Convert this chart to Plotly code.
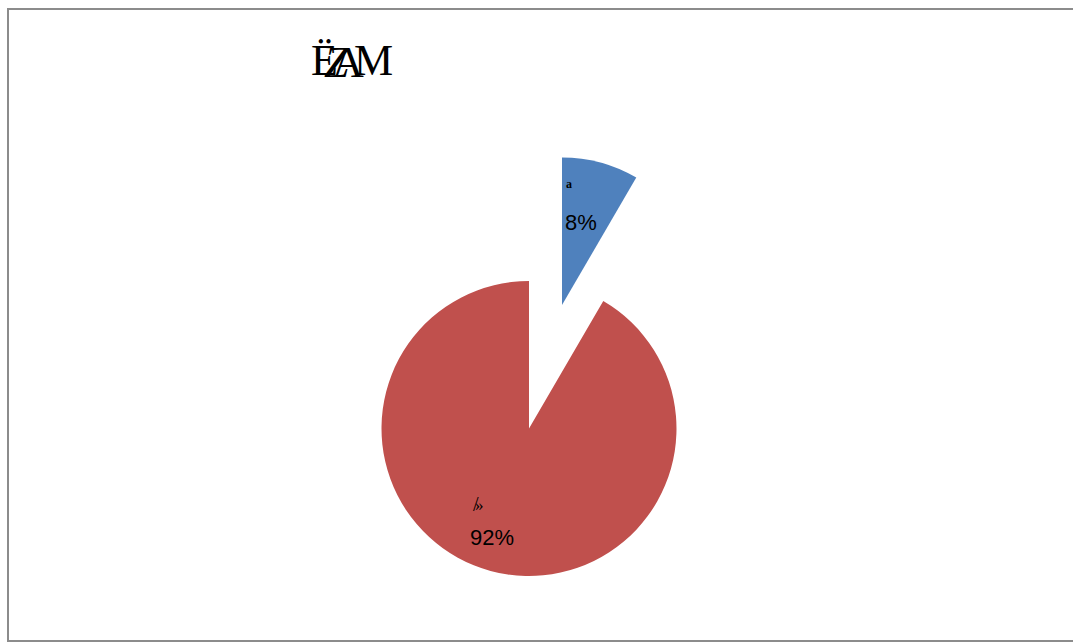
import plotly.graph_objects as go

# ---- data ----
categories = ["a", "»"]
values = [8.4, 91.6]
colors = ["#4F81BD", "#C0504D"]
title_glyphs = ["Ë", "Z", "A", "M"]

W, H = 1073, 643
R = 147.5
CX, CY = 529, 428.5          # pixel centre of main pie (from top)
BX, BY = 562, 305            # pixel centre of exploded slice

def domain(cx, cy, r):
    return dict(x=[(cx - r) / W, (cx + r) / W],
                y=[(H - (cy + r)) / H, (H - (cy - r)) / H])

total = sum(values)
pcts = [f"{round(v / total * 100)}%" for v in values]

fig = go.Figure()
# main pie: red slice only visible
fig.add_trace(go.Pie(
    values=values, labels=categories, sort=False, direction="clockwise",
    rotation=0, marker=dict(colors=["rgba(0,0,0,0)", colors[1]], line=dict(width=0)),
    textinfo="none", hoverinfo="skip", showlegend=False, domain=domain(CX, CY, R)))
# exploded slice: blue slice only visible
fig.add_trace(go.Pie(
    values=values, labels=categories, sort=False, direction="clockwise",
    rotation=0, marker=dict(colors=[colors[0], "rgba(0,0,0,0)"], line=dict(width=0)),
    textinfo="none", hoverinfo="skip", showlegend=False, domain=domain(BX, BY, R)))

def px(x, y):
    return x / W, 1 - y / H

ann = []
# category labels
lab_pos = [(569, 184), (479, 505)]
lab_font = [dict(family="Liberation Serif", size=12, color="black"),
            dict(family="Liberation Serif", size=17, color="black")]
for t, (x, y), f in zip(categories, lab_pos, lab_font):
    ax, ay = px(x, y)
    ann.append(dict(x=ax, y=ay, xref="paper", yref="paper", text=f"<b>{t}</b>" if t == "a" else t,
                    showarrow=False, font=f, xanchor="center", yanchor="middle"))
ax, ay = px(476, 504)
ann.append(dict(x=ax, y=ay, xref="paper", yref="paper", text="/", showarrow=False,
                font=dict(family="Liberation Serif", size=20, color="black"),
                xanchor="center", yanchor="middle"))
# percentage labels
pct_pos = [(581, 223), (492, 537)]
for t, (x, y) in zip(pcts, pct_pos):
    ax, ay = px(x, y)
    ann.append(dict(x=ax, y=ay, xref="paper", yref="paper", text=t, showarrow=False,
                    font=dict(family="Liberation Sans", size=22, color="black"),
                    xanchor="center", yanchor="middle"))
# garbled title glyphs
title_pos = [(324, 60), (336, 62), (348, 62), (373, 60)]
for g, (x, y) in zip(title_glyphs, title_pos):
    ax, ay = px(x, y)
    ann.append(dict(x=ax, y=ay, xref="paper", yref="paper",
                    text=f"<i>{g}</i>" if g == "Z" else g, showarrow=False,
                    font=dict(family="Liberation Serif", size=44, color="black"),
                    xanchor="center", yanchor="middle"))

fig.update_layout(
    width=W, height=H, margin=dict(l=0, r=0, t=0, b=0),
    paper_bgcolor="white", plot_bgcolor="white",
    annotations=ann,
    shapes=[dict(type="rect", xref="paper", yref="paper",
                 x0=8 / W, x1=1.01, y0=1 - 641 / H, y1=1 - 9 / H,
                 line=dict(color="#8c8c8c", width=2), fillcolor="rgba(0,0,0,0)")],
)

fig.write_html("out.html")
